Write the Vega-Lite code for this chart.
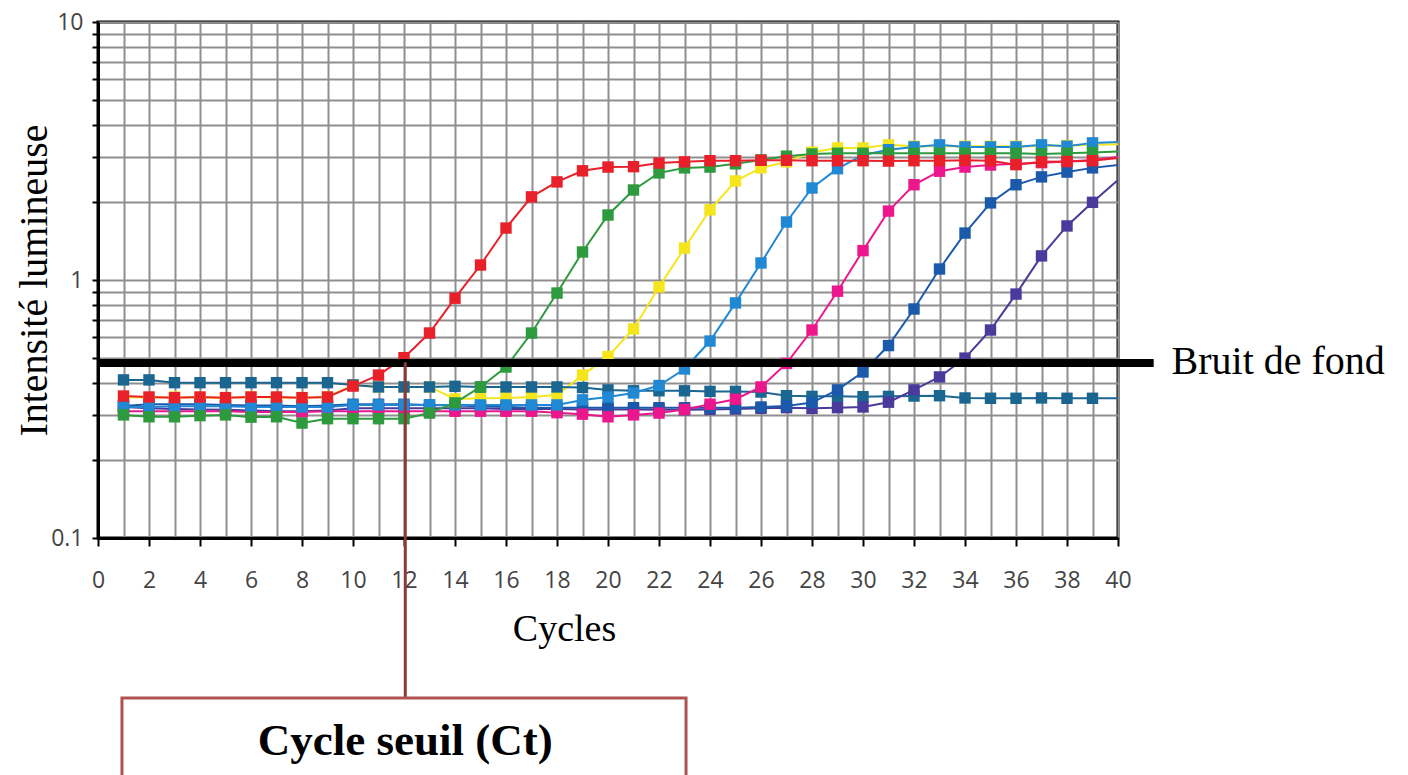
{
"$schema":"https://vega.github.io/schema/vega-lite/v6.json",
"width":1020,"height":516,
"autosize":{"type":"none"},
"padding":{"left":98,"top":22,"right":290,"bottom":237},
"background":"white",
"config":{"view":{"stroke":"black","strokeWidth":3}},
"datasets":{
"curves":[
{"s":"Jaune","c":1,"v":0.352},{"s":"Jaune","c":2,"v":0.35},{"s":"Jaune","c":3,"v":0.352},{"s":"Jaune","c":4,"v":0.35},{"s":"Jaune","c":5,"v":0.35},{"s":"Jaune","c":6,"v":0.352},{"s":"Jaune","c":7,"v":0.35},{"s":"Jaune","c":8,"v":0.35},{"s":"Jaune","c":9,"v":0.352},{"s":"Jaune","c":10,"v":0.392},{"s":"Jaune","c":11,"v":0.385},{"s":"Jaune","c":12,"v":0.385},{"s":"Jaune","c":13,"v":0.385},{"s":"Jaune","c":14,"v":0.346},{"s":"Jaune","c":15,"v":0.348},{"s":"Jaune","c":16,"v":0.349},{"s":"Jaune","c":17,"v":0.352},{"s":"Jaune","c":18,"v":0.358},{"s":"Jaune","c":19,"v":0.428},{"s":"Jaune","c":20,"v":0.505},{"s":"Jaune","c":21,"v":0.646},{"s":"Jaune","c":22,"v":0.94},{"s":"Jaune","c":23,"v":1.33},{"s":"Jaune","c":24,"v":1.87},{"s":"Jaune","c":25,"v":2.42},{"s":"Jaune","c":26,"v":2.72},{"s":"Jaune","c":27,"v":2.87},{"s":"Jaune","c":28,"v":3.13},{"s":"Jaune","c":29,"v":3.25},{"s":"Jaune","c":30,"v":3.25},{"s":"Jaune","c":31,"v":3.34},{"s":"Jaune","c":32,"v":3.30},{"s":"Jaune","c":33,"v":3.30},{"s":"Jaune","c":34,"v":3.30},{"s":"Jaune","c":35,"v":3.30},{"s":"Jaune","c":36,"v":3.30},{"s":"Jaune","c":37,"v":3.30},{"s":"Jaune","c":38,"v":3.32},{"s":"Jaune","c":39,"v":3.34},{"s":"Jaune","c":40,"v":3.36},
{"s":"Témoin","c":1,"v":0.41},{"s":"Témoin","c":2,"v":0.41},{"s":"Témoin","c":3,"v":0.40},{"s":"Témoin","c":4,"v":0.40},{"s":"Témoin","c":5,"v":0.40},{"s":"Témoin","c":6,"v":0.40},{"s":"Témoin","c":7,"v":0.40},{"s":"Témoin","c":8,"v":0.40},{"s":"Témoin","c":9,"v":0.40},{"s":"Témoin","c":10,"v":0.392},{"s":"Témoin","c":11,"v":0.385},{"s":"Témoin","c":12,"v":0.385},{"s":"Témoin","c":13,"v":0.385},{"s":"Témoin","c":14,"v":0.387},{"s":"Témoin","c":15,"v":0.385},{"s":"Témoin","c":16,"v":0.385},{"s":"Témoin","c":17,"v":0.385},{"s":"Témoin","c":18,"v":0.385},{"s":"Témoin","c":19,"v":0.383},{"s":"Témoin","c":20,"v":0.375},{"s":"Témoin","c":21,"v":0.372},{"s":"Témoin","c":22,"v":0.372},{"s":"Témoin","c":23,"v":0.372},{"s":"Témoin","c":24,"v":0.37},{"s":"Témoin","c":25,"v":0.37},{"s":"Témoin","c":26,"v":0.368},{"s":"Témoin","c":27,"v":0.356},{"s":"Témoin","c":28,"v":0.354},{"s":"Témoin","c":29,"v":0.354},{"s":"Témoin","c":30,"v":0.353},{"s":"Témoin","c":31,"v":0.354},{"s":"Témoin","c":32,"v":0.355},{"s":"Témoin","c":33,"v":0.356},{"s":"Témoin","c":34,"v":0.349},{"s":"Témoin","c":35,"v":0.348},{"s":"Témoin","c":36,"v":0.348},{"s":"Témoin","c":37,"v":0.349},{"s":"Témoin","c":38,"v":0.348},{"s":"Témoin","c":39,"v":0.348},{"s":"Témoin","c":40,"v":0.348},
{"s":"Violet","c":1,"v":0.322},{"s":"Violet","c":2,"v":0.318},{"s":"Violet","c":3,"v":0.316},{"s":"Violet","c":4,"v":0.315},{"s":"Violet","c":5,"v":0.314},{"s":"Violet","c":6,"v":0.312},{"s":"Violet","c":7,"v":0.31},{"s":"Violet","c":8,"v":0.31},{"s":"Violet","c":9,"v":0.312},{"s":"Violet","c":10,"v":0.318},{"s":"Violet","c":11,"v":0.318},{"s":"Violet","c":12,"v":0.318},{"s":"Violet","c":13,"v":0.318},{"s":"Violet","c":14,"v":0.318},{"s":"Violet","c":15,"v":0.318},{"s":"Violet","c":16,"v":0.316},{"s":"Violet","c":17,"v":0.316},{"s":"Violet","c":18,"v":0.316},{"s":"Violet","c":19,"v":0.315},{"s":"Violet","c":20,"v":0.315},{"s":"Violet","c":21,"v":0.315},{"s":"Violet","c":22,"v":0.314},{"s":"Violet","c":23,"v":0.314},{"s":"Violet","c":24,"v":0.315},{"s":"Violet","c":25,"v":0.316},{"s":"Violet","c":26,"v":0.318},{"s":"Violet","c":27,"v":0.32},{"s":"Violet","c":28,"v":0.318},{"s":"Violet","c":29,"v":0.32},{"s":"Violet","c":30,"v":0.322},{"s":"Violet","c":31,"v":0.336},{"s":"Violet","c":32,"v":0.375},{"s":"Violet","c":33,"v":0.421},{"s":"Violet","c":34,"v":0.498},{"s":"Violet","c":35,"v":0.64},{"s":"Violet","c":36,"v":0.882},{"s":"Violet","c":37,"v":1.24},{"s":"Violet","c":38,"v":1.62},{"s":"Violet","c":39,"v":2.0},{"s":"Violet","c":40,"v":2.44},
{"s":"Bleu","c":1,"v":0.325},{"s":"Bleu","c":2,"v":0.33},{"s":"Bleu","c":3,"v":0.33},{"s":"Bleu","c":4,"v":0.33},{"s":"Bleu","c":5,"v":0.328},{"s":"Bleu","c":6,"v":0.326},{"s":"Bleu","c":7,"v":0.326},{"s":"Bleu","c":8,"v":0.324},{"s":"Bleu","c":9,"v":0.326},{"s":"Bleu","c":10,"v":0.33},{"s":"Bleu","c":11,"v":0.33},{"s":"Bleu","c":12,"v":0.33},{"s":"Bleu","c":13,"v":0.328},{"s":"Bleu","c":14,"v":0.326},{"s":"Bleu","c":15,"v":0.324},{"s":"Bleu","c":16,"v":0.322},{"s":"Bleu","c":17,"v":0.32},{"s":"Bleu","c":18,"v":0.32},{"s":"Bleu","c":19,"v":0.32},{"s":"Bleu","c":20,"v":0.32},{"s":"Bleu","c":21,"v":0.32},{"s":"Bleu","c":22,"v":0.32},{"s":"Bleu","c":23,"v":0.32},{"s":"Bleu","c":24,"v":0.32},{"s":"Bleu","c":25,"v":0.32},{"s":"Bleu","c":26,"v":0.322},{"s":"Bleu","c":27,"v":0.325},{"s":"Bleu","c":28,"v":0.335},{"s":"Bleu","c":29,"v":0.375},{"s":"Bleu","c":30,"v":0.44},{"s":"Bleu","c":31,"v":0.557},{"s":"Bleu","c":32,"v":0.772},{"s":"Bleu","c":33,"v":1.103},{"s":"Bleu","c":34,"v":1.52},{"s":"Bleu","c":35,"v":1.99},{"s":"Bleu","c":36,"v":2.34},{"s":"Bleu","c":37,"v":2.51},{"s":"Bleu","c":38,"v":2.62},{"s":"Bleu","c":39,"v":2.72},{"s":"Bleu","c":40,"v":2.79},
{"s":"Magenta","c":1,"v":0.31},{"s":"Magenta","c":2,"v":0.31},{"s":"Magenta","c":3,"v":0.31},{"s":"Magenta","c":4,"v":0.31},{"s":"Magenta","c":5,"v":0.31},{"s":"Magenta","c":6,"v":0.308},{"s":"Magenta","c":7,"v":0.308},{"s":"Magenta","c":8,"v":0.308},{"s":"Magenta","c":9,"v":0.31},{"s":"Magenta","c":10,"v":0.31},{"s":"Magenta","c":11,"v":0.31},{"s":"Magenta","c":12,"v":0.31},{"s":"Magenta","c":13,"v":0.31},{"s":"Magenta","c":14,"v":0.31},{"s":"Magenta","c":15,"v":0.31},{"s":"Magenta","c":16,"v":0.31},{"s":"Magenta","c":17,"v":0.31},{"s":"Magenta","c":18,"v":0.306},{"s":"Magenta","c":19,"v":0.302},{"s":"Magenta","c":20,"v":0.295},{"s":"Magenta","c":21,"v":0.30},{"s":"Magenta","c":22,"v":0.305},{"s":"Magenta","c":23,"v":0.315},{"s":"Magenta","c":24,"v":0.33},{"s":"Magenta","c":25,"v":0.345},{"s":"Magenta","c":26,"v":0.385},{"s":"Magenta","c":27,"v":0.475},{"s":"Magenta","c":28,"v":0.64},{"s":"Magenta","c":29,"v":0.905},{"s":"Magenta","c":30,"v":1.30},{"s":"Magenta","c":31,"v":1.85},{"s":"Magenta","c":32,"v":2.34},{"s":"Magenta","c":33,"v":2.64},{"s":"Magenta","c":34,"v":2.74},{"s":"Magenta","c":35,"v":2.79},{"s":"Magenta","c":36,"v":2.82},{"s":"Magenta","c":37,"v":2.85},{"s":"Magenta","c":38,"v":2.88},{"s":"Magenta","c":39,"v":2.92},{"s":"Magenta","c":40,"v":3.0},
{"s":"Bleu clair","c":1,"v":0.322},{"s":"Bleu clair","c":2,"v":0.322},{"s":"Bleu clair","c":3,"v":0.324},{"s":"Bleu clair","c":4,"v":0.324},{"s":"Bleu clair","c":5,"v":0.324},{"s":"Bleu clair","c":6,"v":0.322},{"s":"Bleu clair","c":7,"v":0.322},{"s":"Bleu clair","c":8,"v":0.322},{"s":"Bleu clair","c":9,"v":0.322},{"s":"Bleu clair","c":10,"v":0.328},{"s":"Bleu clair","c":11,"v":0.328},{"s":"Bleu clair","c":12,"v":0.328},{"s":"Bleu clair","c":13,"v":0.328},{"s":"Bleu clair","c":14,"v":0.328},{"s":"Bleu clair","c":15,"v":0.328},{"s":"Bleu clair","c":16,"v":0.328},{"s":"Bleu clair","c":17,"v":0.328},{"s":"Bleu clair","c":18,"v":0.328},{"s":"Bleu clair","c":19,"v":0.343},{"s":"Bleu clair","c":20,"v":0.352},{"s":"Bleu clair","c":21,"v":0.365},{"s":"Bleu clair","c":22,"v":0.39},{"s":"Bleu clair","c":23,"v":0.452},{"s":"Bleu clair","c":24,"v":0.58},{"s":"Bleu clair","c":25,"v":0.815},{"s":"Bleu clair","c":26,"v":1.164},{"s":"Bleu clair","c":27,"v":1.678},{"s":"Bleu clair","c":28,"v":2.273},{"s":"Bleu clair","c":29,"v":2.70},{"s":"Bleu clair","c":30,"v":3.05},{"s":"Bleu clair","c":31,"v":3.2},{"s":"Bleu clair","c":32,"v":3.28},{"s":"Bleu clair","c":33,"v":3.34},{"s":"Bleu clair","c":34,"v":3.28},{"s":"Bleu clair","c":35,"v":3.28},{"s":"Bleu clair","c":36,"v":3.28},{"s":"Bleu clair","c":37,"v":3.34},{"s":"Bleu clair","c":38,"v":3.30},{"s":"Bleu clair","c":39,"v":3.40},{"s":"Bleu clair","c":40,"v":3.43},
{"s":"Vert","c":1,"v":0.30},{"s":"Vert","c":2,"v":0.295},{"s":"Vert","c":3,"v":0.295},{"s":"Vert","c":4,"v":0.298},{"s":"Vert","c":5,"v":0.30},{"s":"Vert","c":6,"v":0.294},{"s":"Vert","c":7,"v":0.295},{"s":"Vert","c":8,"v":0.279},{"s":"Vert","c":9,"v":0.29},{"s":"Vert","c":10,"v":0.29},{"s":"Vert","c":11,"v":0.29},{"s":"Vert","c":12,"v":0.29},{"s":"Vert","c":13,"v":0.305},{"s":"Vert","c":14,"v":0.334},{"s":"Vert","c":15,"v":0.385},{"s":"Vert","c":16,"v":0.46},{"s":"Vert","c":17,"v":0.623},{"s":"Vert","c":18,"v":0.89},{"s":"Vert","c":19,"v":1.284},{"s":"Vert","c":20,"v":1.786},{"s":"Vert","c":21,"v":2.233},{"s":"Vert","c":22,"v":2.60},{"s":"Vert","c":23,"v":2.72},{"s":"Vert","c":24,"v":2.74},{"s":"Vert","c":25,"v":2.82},{"s":"Vert","c":26,"v":2.92},{"s":"Vert","c":27,"v":3.02},{"s":"Vert","c":28,"v":3.08},{"s":"Vert","c":29,"v":3.10},{"s":"Vert","c":30,"v":3.10},{"s":"Vert","c":31,"v":3.10},{"s":"Vert","c":32,"v":3.10},{"s":"Vert","c":33,"v":3.10},{"s":"Vert","c":34,"v":3.10},{"s":"Vert","c":35,"v":3.10},{"s":"Vert","c":36,"v":3.10},{"s":"Vert","c":37,"v":3.08},{"s":"Vert","c":38,"v":3.10},{"s":"Vert","c":39,"v":3.12},{"s":"Vert","c":40,"v":3.15},
{"s":"Rouge","c":1,"v":0.355},{"s":"Rouge","c":2,"v":0.352},{"s":"Rouge","c":3,"v":0.35},{"s":"Rouge","c":4,"v":0.352},{"s":"Rouge","c":5,"v":0.35},{"s":"Rouge","c":6,"v":0.352},{"s":"Rouge","c":7,"v":0.352},{"s":"Rouge","c":8,"v":0.35},{"s":"Rouge","c":9,"v":0.352},{"s":"Rouge","c":10,"v":0.388},{"s":"Rouge","c":11,"v":0.428},{"s":"Rouge","c":12,"v":0.50},{"s":"Rouge","c":13,"v":0.623},{"s":"Rouge","c":14,"v":0.85},{"s":"Rouge","c":15,"v":1.143},{"s":"Rouge","c":16,"v":1.59},{"s":"Rouge","c":17,"v":2.10},{"s":"Rouge","c":18,"v":2.40},{"s":"Rouge","c":19,"v":2.65},{"s":"Rouge","c":20,"v":2.74},{"s":"Rouge","c":21,"v":2.75},{"s":"Rouge","c":22,"v":2.84},{"s":"Rouge","c":23,"v":2.87},{"s":"Rouge","c":24,"v":2.90},{"s":"Rouge","c":25,"v":2.90},{"s":"Rouge","c":26,"v":2.91},{"s":"Rouge","c":27,"v":2.91},{"s":"Rouge","c":28,"v":2.90},{"s":"Rouge","c":29,"v":2.90},{"s":"Rouge","c":30,"v":2.90},{"s":"Rouge","c":31,"v":2.89},{"s":"Rouge","c":32,"v":2.90},{"s":"Rouge","c":33,"v":2.90},{"s":"Rouge","c":34,"v":2.91},{"s":"Rouge","c":35,"v":2.90},{"s":"Rouge","c":36,"v":2.80},{"s":"Rouge","c":37,"v":2.87},{"s":"Rouge","c":38,"v":2.88},{"s":"Rouge","c":39,"v":2.90},{"s":"Rouge","c":40,"v":2.97}
]},
"encoding":{
"x":{"field":"c","type":"quantitative","scale":{"domain":[0,40],"nice":false,"zero":false},
"axis":{"title":"Cycles","values":[0,1,2,3,4,5,6,7,8,9,10,11,12,13,14,15,16,17,18,19,20,21,22,23,24,25,26,27,28,29,30,31,32,33,34,35,36,37,38,39,40],
"labelExpr":"datum.value % 2 === 0 ? datum.label : ''","labelFlush":false,"labelOverlap":false,"labelBound":false,
"grid":true,"gridColor":"#8f8f8f","gridWidth":2,
"domainColor":"black","domainWidth":3,
"tickColor":"black","tickWidth":2,"tickSize":8,"tickOpacity":{"condition":{"test":"datum.value % 2 === 0","value":1},"value":0},
"labelFont":"Open Sans","labelFontSize":23,"labelColor":"#444","labelPadding":23,
"titleFont":"Liberation Serif","titleFontSize":38,"titleFontWeight":"normal","titleColor":"black","titlePadding":18,"titleX":466}},
"y":{"field":"v","type":"quantitative","scale":{"type":"log","domain":[0.1,10],"nice":false,"zero":false},
"axis":{"title":"Intensité lumineuse","values":[0.1,0.2,0.3,0.4,0.5,0.6,0.7,0.8,0.9,1,2,3,4,5,6,7,8,9,10],
"labelExpr":"datum.value === 0.1 ? '0.1' : datum.value === 1 ? '1' : datum.value === 10 ? '10' : ''","labelOverlap":false,"labelBound":false,"labelFlush":false,
"grid":true,"gridColor":"#8f8f8f","gridWidth":2,
"domainColor":"black","domainWidth":3,
"tickColor":"black","tickWidth":2,"tickSize":6,
"labelFont":"Open Sans","labelFontSize":23,"labelColor":"#444","labelPadding":9,
"titleFont":"Liberation Serif","titleFontSize":40,"titleFontWeight":"normal","titleColor":"black","titlePadding":-4}}
},
"layer":[
{"data":{"name":"curves"},"mark":{"type":"line","strokeWidth":2},
"encoding":{"color":{"field":"s","type":"nominal","legend":null,
"scale":{"domain":["Jaune","Témoin","Violet","Bleu","Magenta","Bleu clair","Vert","Rouge"],"range":["#f5e51c","#1a6690","#4a3a9c","#1b59ab","#ec178c","#2189d4","#2e9a3e","#e8202a"]}}}},
{"data":{"name":"curves"},"transform":[{"filter":"datum.c <= 39"}],"mark":{"type":"point","shape":"square","filled":true,"size":130,"opacity":1},
"encoding":{"color":{"field":"s","type":"nominal","legend":null}}},
{"data":{"values":[{"c":0,"c2":41.4,"v":0.477}]},"mark":{"type":"rule","color":"black","strokeWidth":8,"clip":false},
"encoding":{"x2":{"field":"c2"}}},
{"data":{"values":[{"c":42.1,"v":0.48,"t":"Bruit de fond"}]},"mark":{"type":"text","align":"left","baseline":"middle","font":"Liberation Serif","fontSize":40,"color":"black","clip":false},
"encoding":{"text":{"field":"t"}}},
{"data":{"values":[{"c":12.05,"v":0.48,"v2":0.024}]},"mark":{"type":"rule","color":"#8b3a3a","strokeWidth":3,"clip":false},
"encoding":{"y2":{"field":"v2"}}},
{"data":{"values":[{"c":0.94,"c2":23.06,"v":0.024,"v2":0.0105}]},"mark":{"type":"rect","fill":"white","stroke":"#b05252","strokeWidth":3,"clip":false},
"encoding":{"x2":{"field":"c2"},"y2":{"field":"v2"}}},
{"data":{"values":[{"c":12.05,"v":0.01633,"t":"Cycle seuil (Ct)"}]},"mark":{"type":"text","align":"center","baseline":"middle","font":"Liberation Serif","fontSize":45,"fontWeight":"bold","color":"black","clip":false},
"encoding":{"text":{"field":"t"}}}
]
}
